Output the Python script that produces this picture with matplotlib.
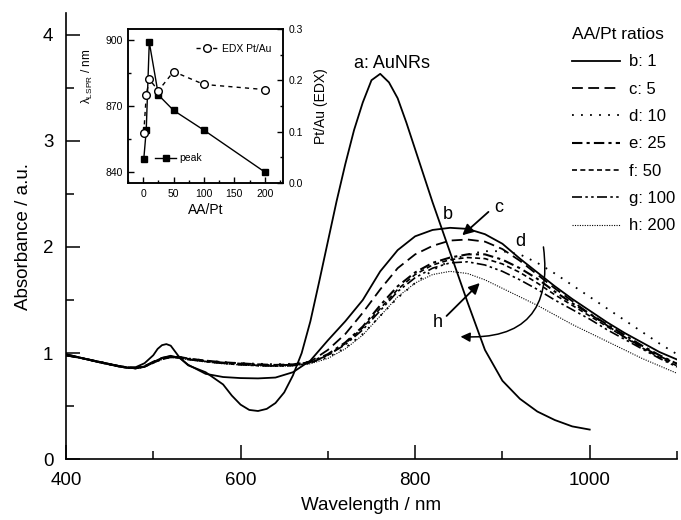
import numpy as np
import matplotlib
matplotlib.use("Agg")
import matplotlib.pyplot as plt
from matplotlib.ticker import MultipleLocator, FormatStrFormatter

plt.rcParams['font.family'] = ['Liberation Sans', 'DejaVu Sans']
plt.rcParams['mathtext.fontset'] = 'custom'
plt.rcParams['mathtext.rm'] = 'Liberation Sans'
plt.rcParams['mathtext.it'] = 'Liberation Sans:italic'

# --- main spectra ---
wl_a = [400, 420, 440, 460, 470, 480, 490, 500, 505, 510, 515, 520, 530, 540, 560,
        580, 590, 600, 610, 620, 630, 640, 650, 660, 670, 680, 690, 700, 710, 720,
        730, 740, 750, 760, 770, 780, 790, 800, 820, 840, 860, 880, 900, 920, 940,
        960, 980, 1000]
abs_a = [0.99, 0.95, 0.91, 0.875, 0.862, 0.868, 0.905, 0.98, 1.04, 1.075, 1.085, 1.07, 0.96, 0.885, 0.82,
         0.705, 0.60, 0.515, 0.465, 0.455, 0.475, 0.53, 0.63, 0.79, 1.0, 1.30, 1.67, 2.05, 2.43, 2.78,
         3.10, 3.36, 3.57, 3.63, 3.55, 3.40, 3.17, 2.92, 2.42, 1.95, 1.48, 1.03, 0.74, 0.57, 0.45,
         0.37, 0.31, 0.28]

wl = [400, 420, 440, 460, 470, 480, 490, 500, 510, 520, 530, 540, 560, 580, 600, 620, 640, 660, 680, 700,
      720, 740, 760, 780, 800, 820, 840, 860, 880, 900, 920, 940, 960, 980, 1000, 1020, 1040, 1060, 1080, 1100]
abs_b = [0.99, 0.95, 0.915, 0.88, 0.866, 0.86, 0.875, 0.915, 0.955, 0.975, 0.955, 0.89, 0.805, 0.775, 0.765, 0.762, 0.77, 0.82, 0.93, 1.12,
         1.30, 1.50, 1.77, 1.97, 2.10, 2.16, 2.18, 2.17, 2.12, 2.03, 1.89, 1.76, 1.63, 1.51, 1.40, 1.29, 1.19, 1.10, 1.01, 0.94]
abs_c = [0.98, 0.95, 0.915, 0.88, 0.867, 0.862, 0.878, 0.92, 0.955, 0.97, 0.965, 0.95, 0.93, 0.915, 0.905, 0.895, 0.89, 0.895, 0.92, 1.03,
         1.18, 1.38, 1.60, 1.80, 1.93, 2.01, 2.06, 2.07, 2.05, 1.98, 1.87, 1.74, 1.61, 1.49, 1.37, 1.26, 1.15, 1.06, 0.97, 0.90]
abs_d = [0.98, 0.95, 0.915, 0.88, 0.866, 0.86, 0.876, 0.915, 0.95, 0.965, 0.962, 0.95, 0.93, 0.915, 0.905, 0.90, 0.895, 0.90, 0.915, 0.96,
         1.05, 1.18, 1.35, 1.52, 1.66, 1.78, 1.87, 1.93, 1.96, 1.96, 1.93, 1.85, 1.75, 1.64, 1.53, 1.42, 1.31, 1.20, 1.09, 0.99]
abs_e = [0.98, 0.95, 0.913, 0.878, 0.864, 0.858, 0.874, 0.912, 0.948, 0.965, 0.96, 0.945, 0.925, 0.91, 0.90, 0.89, 0.885, 0.89, 0.915, 0.99,
         1.10, 1.25, 1.45, 1.63, 1.76, 1.85, 1.90, 1.93, 1.93, 1.88, 1.80, 1.70, 1.58, 1.47, 1.37, 1.27, 1.17, 1.07, 0.98, 0.90]
abs_f = [0.98, 0.948, 0.912, 0.877, 0.862, 0.857, 0.872, 0.91, 0.945, 0.962, 0.958, 0.943, 0.922, 0.905, 0.893, 0.885, 0.88, 0.885, 0.91, 0.98,
         1.09, 1.24, 1.42, 1.60, 1.74, 1.83, 1.88, 1.90, 1.89, 1.84, 1.76, 1.66, 1.55, 1.45, 1.35, 1.25, 1.15, 1.05, 0.96, 0.88]
abs_g = [0.98, 0.948, 0.91, 0.875, 0.86, 0.855, 0.87, 0.908, 0.943, 0.96, 0.955, 0.94, 0.92, 0.903, 0.89, 0.882, 0.878, 0.883, 0.905, 0.98,
         1.08, 1.22, 1.40, 1.58, 1.71, 1.80, 1.85, 1.86, 1.83, 1.77, 1.69, 1.60, 1.50, 1.41, 1.32, 1.22, 1.13, 1.04, 0.95, 0.87]
abs_h = [0.98, 0.947, 0.91, 0.875, 0.86, 0.855, 0.87, 0.905, 0.94, 0.958, 0.953, 0.937, 0.917, 0.90, 0.888, 0.88, 0.875, 0.88, 0.90, 0.95,
         1.04, 1.17, 1.35, 1.53, 1.66, 1.74, 1.77, 1.75, 1.69, 1.61, 1.53, 1.45, 1.36, 1.27, 1.19, 1.11, 1.03, 0.95, 0.88, 0.81]

labels = ['b: 1', 'c: 5', 'd: 10', 'e: 25', 'f: 50', 'g: 100', 'h: 200']
styles = ['-', (0, (6, 3)), (0, (1, 4)), (0, (5, 2, 1.5, 2)), (0, (3, 2)), (0, (6, 2, 1.5, 2, 1.5, 2)), (0, (1, 1.2))]
widths = [1.3, 1.3, 1.3, 1.5, 1.2, 1.2, 0.8]

# --- inset data ---
ratio = [1, 5, 10, 25, 50, 100, 200]
peak_nm = [846, 859, 899, 875, 868, 859, 840]
edx = [0.098, 0.171, 0.202, 0.18, 0.217, 0.192, 0.182]

fig = plt.figure(figsize=(6.81, 5.2), dpi=100)
ax = fig.add_axes([0.0969, 0.1167, 0.8972, 0.8577])

ax.plot(wl_a, abs_a, color='k', lw=1.3)
series = [abs_b, abs_c, abs_d, abs_e, abs_f, abs_g, abs_h]
for y, lab, ls, w in zip(series, labels, styles, widths):
    ax.plot(wl, y, color='k', ls=ls, lw=w, label=lab)

ax.set_xlim(400, 1100)
ax.set_ylim(0, 4.2)
ax.xaxis.set_major_locator(MultipleLocator(200))
ax.xaxis.set_minor_locator(MultipleLocator(100))
ax.yaxis.set_major_locator(MultipleLocator(1))
ax.yaxis.set_minor_locator(MultipleLocator(0.5))
ax.tick_params(which='both', direction='in', width=1.1, labelsize=13.5, pad=9)
ax.tick_params(which='major', length=10)
ax.tick_params(which='minor', length=6)
ax.spines['top'].set_visible(False)
ax.spines['right'].set_visible(False)
for s in ['left', 'bottom']:
    ax.spines[s].set_linewidth(1.2)
ax.set_xlabel('Wavelength / nm', fontsize=13.5, labelpad=6)
ax.set_ylabel('Absorbance / a.u.', fontsize=13.5, labelpad=8)

leg = ax.legend(loc='upper left', bbox_to_anchor=(572 / 681, 0.948), bbox_transform=fig.transFigure,
                frameon=False, fontsize=12, title='AA/Pt ratios', title_fontsize=12.5,
                handlelength=2.9, handletextpad=0.5, labelspacing=0.74, borderpad=0, borderaxespad=0,
                alignment='left')

# annotations
ax.text(774, 3.73, 'a: AuNRs', fontsize=13, ha='center', va='center')
ax.text(838, 2.31, 'b', fontsize=13, ha='center', va='center')
ax.text(896, 2.37, 'c', fontsize=13, ha='center', va='center')
ax.text(921, 2.05, 'd', fontsize=13, ha='center', va='center')
ax.text(826, 1.29, 'h', fontsize=13, ha='center', va='center')
arr = dict(arrowstyle='-|>', color='k', lw=1.3, mutation_scale=16, shrinkA=0, shrinkB=0)
ax.annotate('', xy=(854, 2.11), xytext=(884, 2.33), arrowprops=arr)
ax.annotate('', xy=(874, 1.66), xytext=(836, 1.35), arrowprops=arr)
ax.annotate('', xy=(852, 1.155), xytext=(947, 2.0),
            arrowprops=dict(arrowstyle='-|>', color='k', lw=1.1, mutation_scale=14,
                            shrinkA=0, shrinkB=0, connectionstyle='arc3,rad=-0.6'))

# inset
ins = fig.add_axes([128 / 681, (520 - 183) / 520, 155 / 681, 154 / 520])
ins2 = ins.twinx()
ins.plot(ratio, peak_nm, color='k', lw=1.0, marker='s', ms=5, label='peak')
ins2.plot(ratio, edx, color='k', lw=1.0, ls=(0, (3, 3)), marker='o', ms=5.5, mfc='white', label='EDX Pt/Au')
ins.set_xlim(-25, 230)
ins.set_ylim(835, 905)
ins2.set_ylim(0, 0.3)
ins.xaxis.set_major_locator(MultipleLocator(50))
ins.xaxis.set_minor_locator(MultipleLocator(25))
ins.yaxis.set_major_locator(MultipleLocator(30))
ins.yaxis.set_minor_locator(MultipleLocator(15))
ins2.yaxis.set_major_locator(MultipleLocator(0.1))
ins2.yaxis.set_minor_locator(MultipleLocator(0.05))
ins2.yaxis.set_major_formatter(FormatStrFormatter('%.1f'))
for a_ in (ins, ins2):
    a_.tick_params(which='both', direction='in', width=1.0, labelsize=7.5, pad=4)
    a_.tick_params(which='major', length=4)
    a_.tick_params(which='minor', length=2.5)
    for s in a_.spines.values():
        s.set_linewidth(1.1)
ins.set_xlabel('AA/Pt', fontsize=10, labelpad=3)
ins.set_ylabel(r'λ$_{\rm LSPR}$ / nm', fontsize=8.5)
ins.yaxis.set_label_coords(-0.21, 0.69)
ins2.set_ylabel('Pt/Au (EDX)', fontsize=10)
ins2.yaxis.set_label_coords(1.2, 0.5)
ins2.legend(loc='upper right', bbox_to_anchor=(0.95, 0.93), frameon=False, fontsize=7.5,
            handlelength=2.2, handletextpad=0.3, borderaxespad=0)
ins.legend(loc='lower left', bbox_to_anchor=(0.15, 0.1), frameon=False, fontsize=7.5,
           handlelength=2.0, handletextpad=0.3, borderaxespad=0)

fig.savefig('out.png', dpi=100)
